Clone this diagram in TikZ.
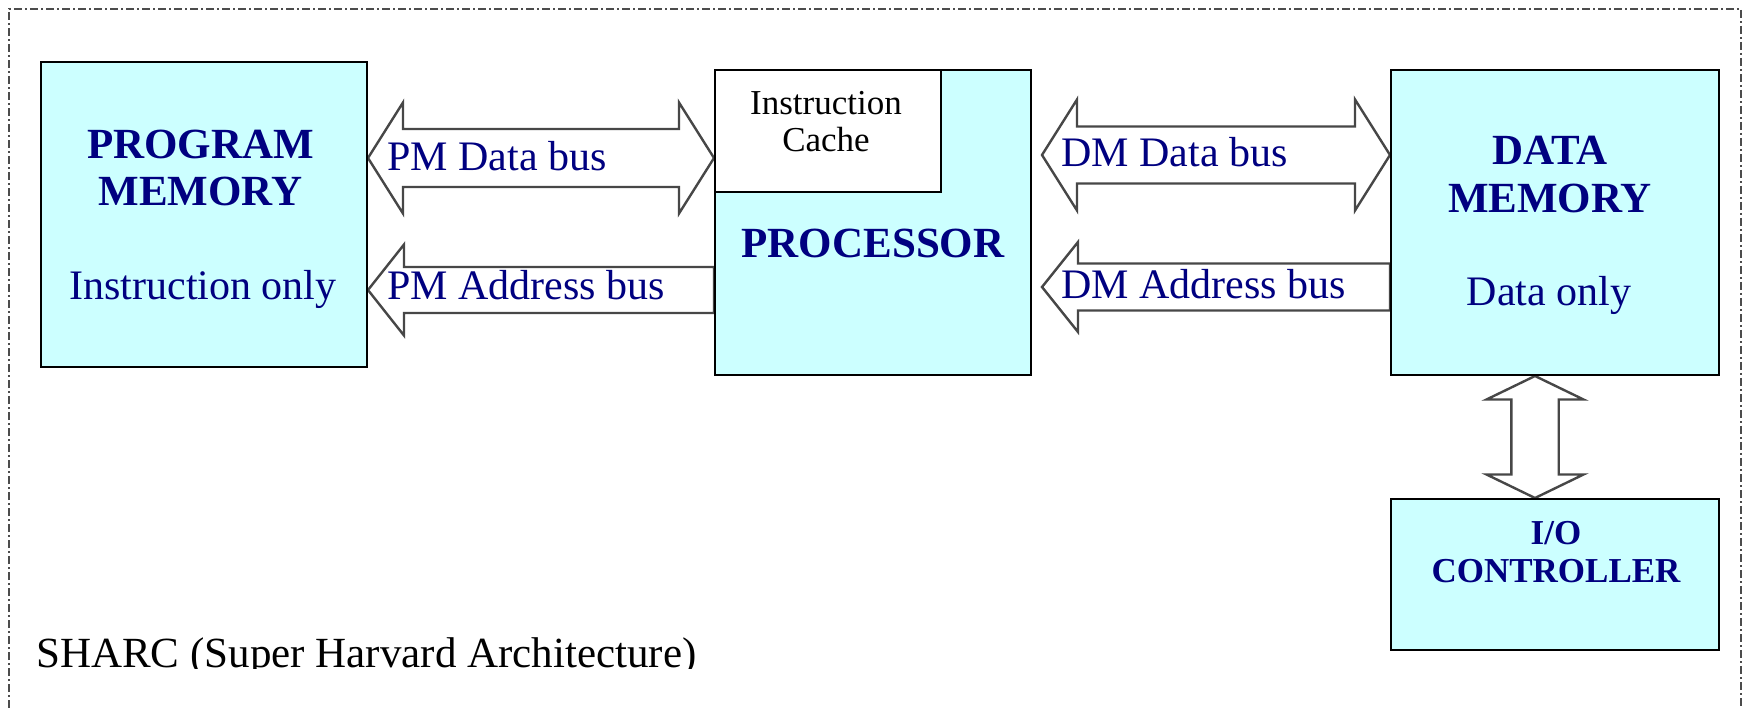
\documentclass[tikz,border=0pt]{standalone}
\usepackage{fontspec}
\setmainfont{Liberation Serif}
\usetikzlibrary{calc,backgrounds}
\definecolor{boxfill}{RGB}{204,255,255}
\definecolor{navy}{RGB}{0,0,128}
\tikzset{
  unit/.style={draw=black, line width=2pt, fill=boxfill, inner sep=0pt},
  lbl/.style={inner sep=0pt, text=navy, font=\fontsize{42}{48}\selectfont},
  title/.style={inner sep=0pt, text=navy, font=\fontsize{43}{48}\selectfont\bfseries},
  smalltitle/.style={inner sep=0pt, text=navy, font=\fontsize{35}{40}\selectfont\bfseries},
  cachelbl/.style={inner sep=0pt, text=black, font=\fontsize{35}{40}\selectfont},
  caption/.style={inner sep=0pt, text=black, font=\fontsize{43}{48}\selectfont},
  bus/.style={draw=black!72, line width=2.4pt, fill=white, line join=miter},
  frame/.style={draw=black!70, line width=1.3pt, dash pattern=on 8pt off 3pt on 2pt off 3pt}
}
% horizontal block arrow with heads at both ends: left tip, right tip, head half-height, shaft half-height
\newcommand\hbustwo[4]{%
  \draw[bus] (#1) -- ($(#1)+(35,-#3)$) -- ($(#1)+(35,-#4)$) -- ($(#2)+(-35,-#4)$)
    -- ($(#2)+(-35,-#3)$) -- (#2) -- ($(#2)+(-35,#3)$) -- ($(#2)+(-35,#4)$)
    -- ($(#1)+(35,#4)$) -- ($(#1)+(35,#3)$) -- cycle;}
% horizontal block arrow pointing left: tip, tail, head half-height, shaft half-height
\newcommand\hbusleft[4]{%
  \draw[bus] (#1) -- ($(#1)+(36,-#3)$) -- ($(#1)+(36,-#4)$) -- ($(#2)+(0,-#4)$)
    -- ($(#2)+(0,#4)$) -- ($(#1)+(36,#4)$) -- ($(#1)+(36,#3)$) -- cycle;}
% vertical block arrow with heads at both ends: top tip, bottom tip, head half-width, shaft half-width
\newcommand\vbustwo[4]{%
  \draw[bus] (#1) -- ($(#1)+(#3,23.5)$) -- ($(#1)+(#4,23.5)$) -- ($(#2)+(#4,-23.5)$)
    -- ($(#2)+(#3,-23.5)$) -- (#2) -- ($(#2)+(-#3,-23.5)$) -- ($(#2)+(-#4,-23.5)$)
    -- ($(#1)+(-#4,23.5)$) -- ($(#1)+(-#3,23.5)$) -- cycle;}
\begin{document}
\begin{tikzpicture}[x=1pt,y=-1pt]
\useasboundingbox (0,0) rectangle (1750,708);

% outer frame (open at the bottom)
\draw[frame] (9,708) -- (9,9) -- (1741,9) -- (1741,708);

% units
\node[unit, minimum width=326pt, minimum height=305pt] (pm) at (204,214.5) {};
\node[unit, minimum width=316pt, minimum height=305pt] (proc) at (873,222.5) {};
\node[unit, fill=white, minimum width=226pt, minimum height=122pt, anchor=north west] (cache) at (proc.north west) {};
\node[unit, minimum width=328pt, minimum height=305pt] (dm) at (1555,222.5) {};
\node[unit, minimum width=328pt, minimum height=151pt] (io) at (1555,574.5) {};

% unit labels
\node[title, anchor=base] (pmt1) at (200.5,159) {PROGRAM};
\node[title, anchor=base] (pmt2) at (200.5,206) {MEMORY};
\node[lbl, anchor=base] (pmt3) at (203,300) {Instruction only};
\node[title, anchor=base] (proct) at (873,258) {PROCESSOR};
\node[cachelbl, anchor=base] (cachet1) at (826,114.5) {Instruction};
\node[cachelbl, anchor=base] (cachet2) at (826,152) {Cache};
\node[title, anchor=base] (dmt1) at (1550,164.5) {DATA};
\node[title, anchor=base] (dmt2) at (1550,212.5) {MEMORY};
\node[lbl, anchor=base] (dmt3) at (1549,305.5) {Data only};
\node[smalltitle, anchor=base] (iot1) at (1556,544) {I/O};
\node[smalltitle, anchor=base] (iot2) at (1556,582) {CONTROLLER};

% bus rows
\coordinate (pmdrow) at (0,158);
\coordinate (pmarow) at (0,290);
\coordinate (dmdrow) at (0,155);
\coordinate (dmarow) at (0,287);
\coordinate (iocol) at (1535,0);

\coordinate (pmdL) at (pm.east |- pmdrow);
\coordinate (pmdR) at (proc.west |- pmdrow);
\coordinate (pmaL) at (pm.east |- pmarow);
\coordinate (pmaR) at (proc.west |- pmarow);
\coordinate (dmdL0) at (proc.east |- dmdrow);
\coordinate (dmdL) at ($(dmdL0)+(10,0)$);
\coordinate (dmdR) at (dm.west |- dmdrow);
\coordinate (dmaL0) at (proc.east |- dmarow);
\coordinate (dmaL) at ($(dmaL0)+(10,0)$);
\coordinate (dmaR) at (dm.west |- dmarow);
\coordinate (ioT) at (dm.south -| iocol);
\coordinate (ioB) at (io.north -| iocol);

\begin{scope}[on background layer]
  \hbustwo{pmdL}{pmdR}{55.5}{29}
  \hbusleft{pmaL}{pmaR}{45.5}{23}
  \hbustwo{dmdL}{dmdR}{55.5}{28.5}
  \hbusleft{dmaL}{dmaR}{45}{23.5}
  \vbustwo{ioT}{ioB}{48.5}{23.7}
\end{scope}

% bus labels
\node[lbl, anchor=base west] (pmdt) at (387,170.5) {PM Data bus};
\node[lbl, anchor=base west] (pmat) at (387,300) {PM Address bus};
\node[lbl, anchor=base west] (dmdt) at (1061,167) {DM Data bus};
\node[lbl, anchor=base west] (dmat) at (1061,299) {DM Address bus};

% caption, cut at its baseline
\begin{scope}
  \clip (0,0) rectangle (760,668);
  \node[caption, anchor=base west] (cap) at (36,667) {SHARC (Super Harvard Architecture)};
\end{scope}
\end{tikzpicture}
\end{document}
